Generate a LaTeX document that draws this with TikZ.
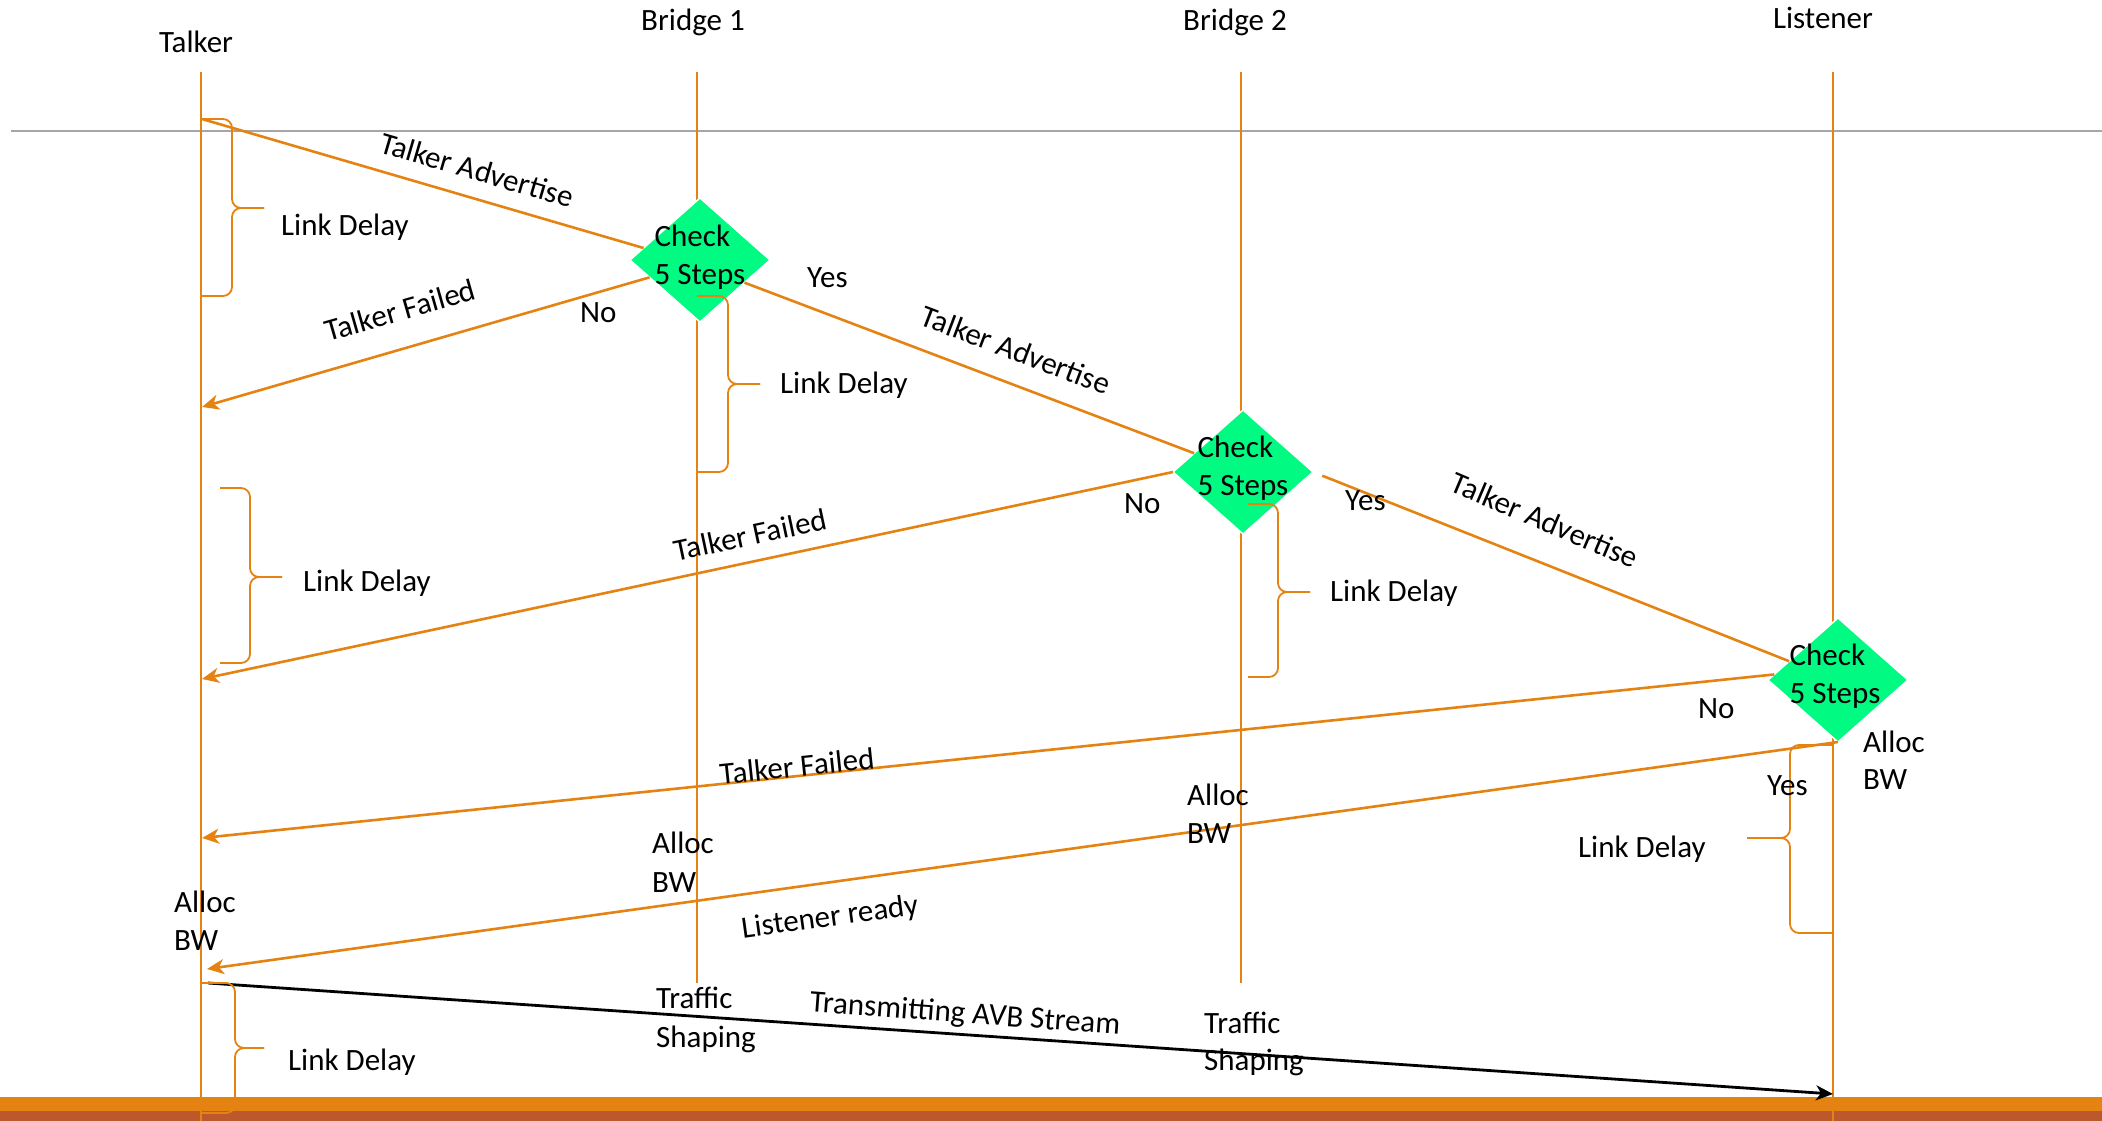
\documentclass[tikz,border=0pt]{standalone}
\usepackage{fontspec}
\setmainfont{Carlito}
\usetikzlibrary{arrows.meta,shapes.geometric}
\definecolor{acc}{HTML}{E48312}
\definecolor{accdark}{HTML}{BD582C}
\definecolor{chk}{RGB}{0,250,130}
\definecolor{rulegray}{HTML}{A6A6A6}

% curly brace: x0, ytop, ybot, xbrace, xtip, ytip
\newcommand{\delaybrace}[6]{%
  \draw[bracket] (#1,#2) -- (#4,#2) -- (#4,#6) -- (#5,#6);
  \draw[bracket] (#5,#6) -- (#4,#6) -- (#4,#3) -- (#1,#3);}

\begin{document}
\begin{tikzpicture}[x=1pt,y=-1pt,
  lifeline/.style={draw=acc, line width=1.8pt},
  msgline/.style={draw=acc, line width=2.6pt},
  msg/.style={msgline, -{Stealth[length=17pt,width=15pt,inset=5pt]}},
  stream/.style={draw=black, line width=2.8pt, -{Stealth[length=17pt,width=15pt,inset=5pt]}},
  bracket/.style={draw=acc, line width=1.8pt, rounded corners=9pt},
  check/.style={diamond, fill=chk, draw=white, line width=1.5pt,
    minimum width=140pt, minimum height=124pt, inner sep=0pt, outer sep=0pt},
  txt/.style={font=\fontsize{31}{38}\selectfont, inner sep=0pt, text=black},
  lbl/.style={txt, anchor=base west},
  head/.style={txt, anchor=base},
]
\useasboundingbox (0,0) rectangle (2102,1121);

% footer bands
\fill[acc] (0,1097) rectangle (2102,1111);
\fill[accdark] (0,1111) rectangle (2102,1121);

% horizontal rule
\coordinate (ruleL) at (11,131);
\coordinate (ruleR) at (2102,131);
\draw[rulegray, line width=2pt] (ruleL) -- (ruleR);

% headers
\node[head] (hT) at (196,53) {Talker};
\node[head] (hB1) at (693,31) {Bridge 1};
\node[head] (hB2) at (1235,31) {Bridge 2};
\node[head] (hL) at (1823,29) {Listener};

% lifelines
\coordinate (Ttop) at (201,72);   \coordinate (Tbot) at (201,1121);
\coordinate (B1top) at (697,72);  \coordinate (B1bot) at (697,983);
\coordinate (B2top) at (1241,72); \coordinate (B2bot) at (1241,983);
\coordinate (Ltop) at (1833,72);  \coordinate (Lbot) at (1833,1121);
\draw[lifeline] (Ttop) -- (Tbot);
\draw[lifeline] (B1top) -- (B1bot);
\draw[lifeline] (B2top) -- (B2bot);
\draw[lifeline] (Ltop) -- (Lbot);

% decision diamonds
\node[check] (d1) at (700,260) {};
\node[check] (d2) at (1243,472) {};
\node[check] (d3) at (1838,680) {};

% events on the Talker and Listener lifelines
\coordinate (tA) at (202,119);
\coordinate (tF1) at (202,407);
\coordinate (tF2) at (202,679);
\coordinate (tF3) at (202,838);
\coordinate (tR) at (207,969);
\coordinate (tS) at (208,983);
\coordinate (lS) at (1833,1094);

% messages
\draw[msgline] (tA) -- (d1.168);
\draw[msg] (d1.199) -- (tF1);
\draw[msgline] (d1.333) -- (d2.159);
\draw[msg] (d2.west) -- (tF2);
\draw[msgline, shorten <=10pt] (d2.east) -- (d3.159);
\draw[msg] (d3.175) -- (tF3);
\draw[msg] (d3.south) -- (tR);
\draw[stream] (tS) -- (lS);

% diamond texts
\node[txt, align=left] (d1t) at ([yshift=3pt]d1.center) {Check\\5 Steps};
\node[txt, align=left] (d2t) at ([yshift=4pt]d2.center) {Check\\5 Steps};
\node[txt, align=left] (d3t) at ([yshift=4pt,xshift=-3pt]d3.center) {Check\\5 Steps};

% link delay braces
\delaybrace{202}{119}{296}{232}{264}{208}
\delaybrace{697}{296}{472}{728}{760}{384}
\delaybrace{220}{488}{663}{250}{282}{577}
\delaybrace{1248}{504}{677}{1278}{1310}{592}
\delaybrace{1833}{745}{933}{1790}{1747}{838}
\delaybrace{201}{983}{1113}{235}{264}{1048}

\node[lbl] (ld1) at (281,235) {Link Delay};
\node[lbl] (ld2) at (780,393) {Link Delay};
\node[lbl] (ld3) at (303,591) {Link Delay};
\node[lbl] (ld4) at (1330,601) {Link Delay};
\node[lbl] (ld5) at (1578,857) {Link Delay};
\node[lbl] (ld6) at (288,1070) {Link Delay};

% message labels
\node[txt, rotate=-16.3] (m1) at (477,170) {Talker Advertise};
\node[txt, rotate=16] (m2) at (400,310) {Talker Failed};
\node[txt, rotate=-20.8] (m3) at (1016,350) {Talker Advertise};
\node[txt, rotate=12] (m4) at (750,535) {Talker Failed};
\node[txt, rotate=-23] (m5) at (1545,520) {Talker Advertise};
\node[txt, rotate=6] (m6) at (797,766) {Talker Failed};
\node[txt, rotate=7.8] (m7) at (830,918) {Listener ready};
\node[txt, rotate=-4.3] (m8) at (965,1015) {Transmitting AVB Stream};

% decision outcomes
\node[lbl] (no1) at (580,322) {No};
\node[lbl] (yes1) at (807,287) {Yes};
\node[lbl] (no2) at (1124,513) {No};
\node[lbl] (yes2) at (1345,510) {Yes};
\node[lbl] (no3) at (1698,718) {No};
\node[lbl] (yes3) at (1767,795) {Yes};

% bandwidth allocation
\node[lbl] (aL1) at (1863,752) {Alloc};
\node[lbl] (aL2) at (1863,789) {BW};
\node[lbl] (aB21) at (1187,805) {Alloc};
\node[lbl] (aB22) at (1187,843) {BW};
\node[lbl] (aB11) at (652,853) {Alloc};
\node[lbl] (aB12) at (652,892) {BW};
\node[lbl] (aT1) at (174,912) {Alloc};
\node[lbl] (aT2) at (174,950) {BW};

% traffic shaping
\node[lbl] (s11) at (656,1008) {Traffic};
\node[lbl] (s12) at (656,1047) {Shaping};
\node[lbl] (s21) at (1204,1033) {Traffic};
\node[lbl] (s22) at (1204,1070) {Shaping};
\end{tikzpicture}
\end{document}
